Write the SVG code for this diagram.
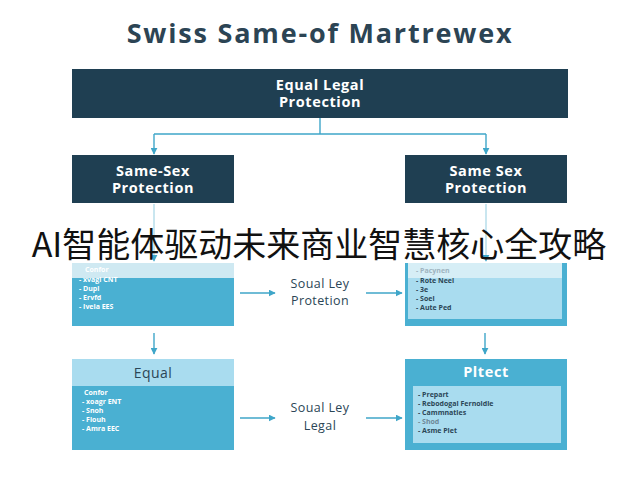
<svg xmlns="http://www.w3.org/2000/svg" width="640" height="480" viewBox="0 0 640 480">
<defs>
<marker id="ah" viewBox="0 0 10 10" refX="9" refY="5" markerWidth="7" markerHeight="7" markerUnits="userSpaceOnUse" orient="auto"><path d="M0,0 L10,5 L0,10 z" fill="#3fa6c9"/></marker>
<style>
.t{font-family:"Open Sans","Noto Sans","DejaVu Sans",sans-serif}
.dark{fill:#1f3f52}
.wt{fill:#ffffff;font-weight:bold;font-size:14.5px;text-anchor:middle;letter-spacing:0.6px}
.sm{font-size:7px;font-weight:bold}
.smw{fill:#ffffff}
.smd{fill:#2b4656}
.con{stroke:#3fa6c9;stroke-width:1.4;fill:none}
.lbl{font-size:12.5px;fill:#2b4656;text-anchor:middle;letter-spacing:0.4px}
</style>
</defs>
<rect width="640" height="480" fill="#ffffff"/>
<text class="t" x="320" y="43" font-size="27" font-weight="bold" fill="#2c4454" text-anchor="middle" letter-spacing="1.8">Swiss Same-of Martrewex</text>

<g id="connectors">
<path class="con" d="M320,118 V134 M154,134 H486"/>
<path class="con" d="M154,134 V154" marker-end="url(#ah)"/>
<path class="con" d="M486,134 V154" marker-end="url(#ah)"/>
<path class="con" d="M154,204 V261" stroke-opacity="0.4" marker-end="url(#ah)"/>
<path class="con" d="M486,204 V261" stroke-opacity="0.4" marker-end="url(#ah)"/>
<path class="con" d="M240,293 H275" marker-end="url(#ah)"/>
<path class="con" d="M366,293 H402" marker-end="url(#ah)"/>
<path class="con" d="M154,333 V354" marker-end="url(#ah)"/>
<path class="con" d="M485,333 V354" marker-end="url(#ah)"/>
<path class="con" d="M240,418 H275" marker-end="url(#ah)"/>
<path class="con" d="M366,418 H402" marker-end="url(#ah)"/>
<text class="t lbl" x="320" y="288">Soual Ley</text>
<text class="t lbl" x="320" y="305">Protetion</text>
<text class="t lbl" x="320" y="412">Soual Ley</text>
<text class="t lbl" x="320" y="430">Legal</text>
</g>

<g id="top">
<rect class="dark" x="72" y="69" width="496" height="49"/>
<text class="t wt" x="320" y="90">Equal Legal</text>
<text class="t wt" x="320" y="107">Protection</text>
</g>

<g id="left1">
<rect class="dark" x="72" y="155" width="162" height="48"/>
<text class="t wt" x="153" y="176">Same-Sex</text>
<text class="t wt" x="153" y="193">Protection</text>
</g>

<g id="right1">
<rect class="dark" x="405" y="155" width="162" height="48"/>
<text class="t wt" x="486" y="176">Same Sex</text>
<text class="t wt" x="486" y="193">Protection</text>
</g>

<g id="left2">
<rect x="72" y="263" width="162" height="63" fill="#4ab0d2"/>
<rect x="72" y="263" width="162" height="15" fill="#cfe9f2"/>
<text class="t sm smw" x="85" y="272">Confor</text>
<text class="t sm smw" x="79" y="282">- xvagi CNT</text>
<text class="t sm smw" x="79" y="291">- Dupl</text>
<text class="t sm smw" x="79" y="300">- Ervfd</text>
<text class="t sm smw" x="79" y="309">- Ivela EES</text>
</g>

<g id="right2">
<rect x="405" y="263" width="162" height="63" fill="#4ab0d2"/>
<rect x="408" y="263" width="154" height="56" fill="#a9dcef"/>
<rect x="408" y="263" width="154" height="15" fill="#d6eef6"/>
<text class="t sm" x="416" y="273" fill="#9fb4bf">- Pacynen</text>
<text class="t sm smd" x="416" y="283">- Rote Neel</text>
<text class="t sm smd" x="416" y="292">- 3e</text>
<text class="t sm smd" x="416" y="301">- Soel</text>
<text class="t sm smd" x="416" y="310">- Aute Ped</text>
</g>

<g id="left3">
<rect x="72" y="359" width="162" height="91" fill="#4ab0d2"/>
<rect x="72" y="359" width="162" height="27" fill="#a9dcef"/>
<text class="t" x="153" y="378" font-size="14" fill="#2b4656" text-anchor="middle" letter-spacing="0.5">Equal</text>
<text class="t sm smw" x="84" y="395">Confor</text>
<text class="t sm smw" x="82" y="404">- xoagr ENT</text>
<text class="t sm smw" x="82" y="413">- Snoh</text>
<text class="t sm smw" x="82" y="422">- Fiouh</text>
<text class="t sm smw" x="82" y="431">- Amra EEC</text>
</g>

<g id="right3">
<rect x="405" y="359" width="162" height="91" fill="#4ab0d2"/>
<text class="t wt" x="486" y="377" font-size="16">Pltect</text>
<rect x="413" y="386" width="148" height="57" fill="#a9dcef"/>
<text class="t sm smd" x="418" y="397">- Prepart</text>
<text class="t sm smd" x="418" y="406">- Rebodogal Fernoldle</text>
<text class="t sm smd" x="418" y="415">- Cammnatles</text>
<text class="t sm" x="418" y="424" fill="#6d8896">- Shod</text>
<text class="t sm smd" x="418" y="433">- Asme Plet</text>
</g>

<text x="319" y="257" font-family="'Noto Sans CJK SC','Noto Sans',sans-serif" font-size="34" fill="#111111" text-anchor="middle">AI智能体驱动未来商业智慧核心全攻略</text>
</svg>
